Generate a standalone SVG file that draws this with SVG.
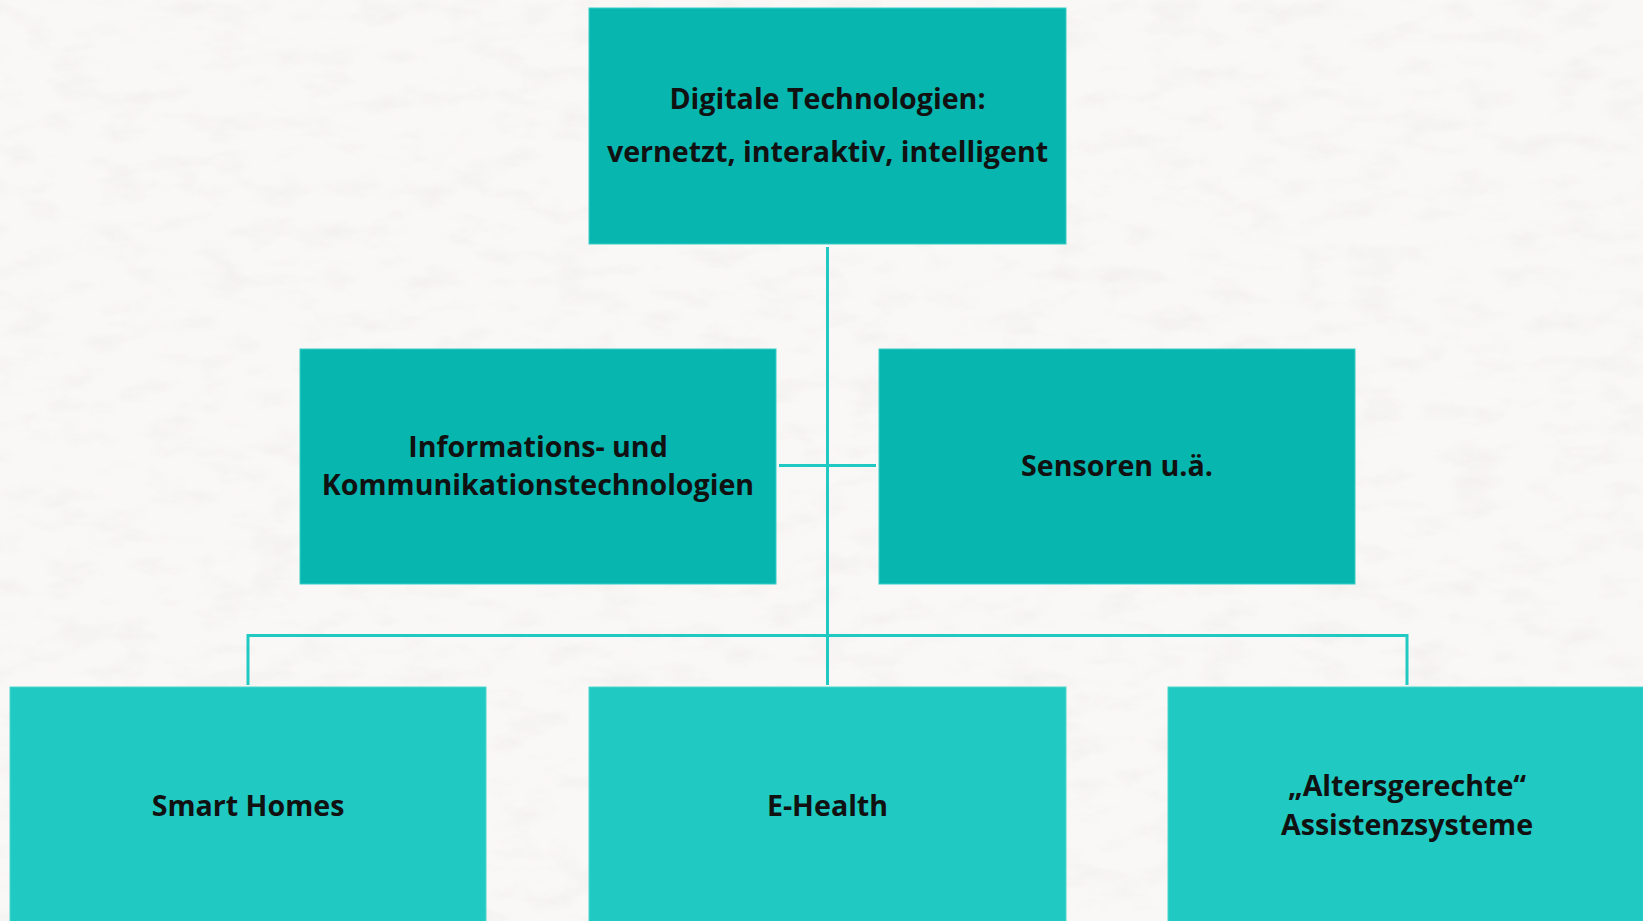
<svg xmlns="http://www.w3.org/2000/svg" width="1643" height="921" viewBox="0 0 1643 921">
<style>
.dark{fill:#06B6AF;stroke:#38CDC6;stroke-width:1}
.light{fill:#20C9C1;stroke:#4DD6CF;stroke-width:1}
.lbl{font-family:"Open Sans","Noto Sans","Liberation Sans",sans-serif;font-weight:700;font-size:28.6px;fill:#111;text-anchor:middle}
.con{stroke:#20C9C1;stroke-width:3;fill:none}
</style>
<defs>
<filter id="paper" x="0" y="0" width="100%" height="100%">
<feTurbulence type="fractalNoise" baseFrequency="0.02 0.045" numOctaves="4" seed="7" result="n"/>
<feColorMatrix in="n" type="matrix" values="0 0 0 0 0.6  0 0 0 0 0.58  0 0 0 0 0.57  0 0 0 -1.3 0.68"/>
</filter>
</defs>
<rect x="0" y="0" width="1643" height="921" fill="#FAF8F6"/>
<rect x="0" y="0" width="1643" height="921" filter="url(#paper)" opacity="0.25"/>
<g id="connectors">
<line class="con" x1="827.5" y1="247" x2="827.5" y2="685"/>
<line class="con" x1="779" y1="465.5" x2="876" y2="465.5"/>
<polyline class="con" points="248,685 248,635.5 1407,635.5 1407,685"/>
</g>
<g id="n-top">
<rect class="dark" x="589" y="8" width="477" height="236"/>
<text class="lbl" x="827.5" y="109">Digitale Technologien:</text>
<text class="lbl" x="827.5" y="162">vernetzt, interaktiv, intelligent</text>
</g>
<g id="n-ikt">
<rect class="dark" x="300" y="349" width="476" height="235"/>
<text class="lbl" x="538" y="457">Informations- und</text>
<text class="lbl" x="538" y="495">Kommunikationstechnologien</text>
</g>
<g id="n-sensoren">
<rect class="dark" x="879" y="349" width="476" height="235"/>
<text class="lbl" x="1117" y="476">Sensoren u.ä.</text>
</g>
<g id="n-smart">
<rect class="light" x="10" y="687" width="476" height="240"/>
<text class="lbl" x="248" y="816">Smart Homes</text>
</g>
<g id="n-ehealth">
<rect class="light" x="589" y="687" width="477" height="240"/>
<text class="lbl" x="827.5" y="816">E-Health</text>
</g>
<g id="n-aal">
<rect class="light" x="1168" y="687" width="478" height="240"/>
<text class="lbl" x="1407" y="796">„Altersgerechte“</text>
<text class="lbl" x="1407" y="835">Assistenzsysteme</text>
</g>
</svg>
